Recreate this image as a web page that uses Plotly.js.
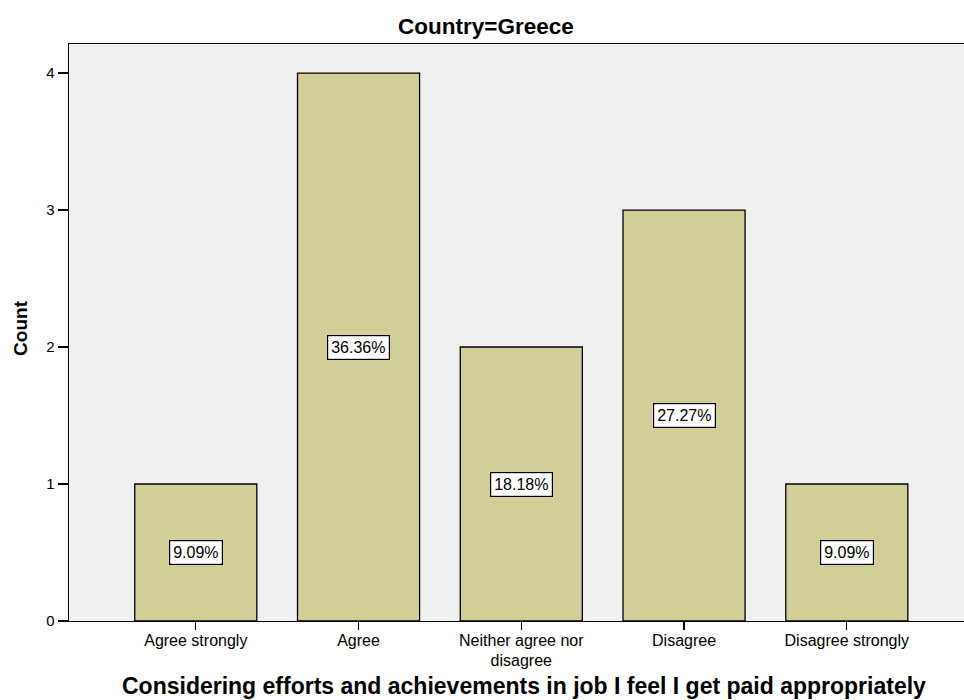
<!DOCTYPE html>
<html>
<head>
<meta charset="utf-8">
<script src="https://cdn.plot.ly/plotly-3.0.1.min.js"></script>
<style>html,body{margin:0;padding:0;background:#fff;}#chart{width:964px;height:700px;}</style>
</head>
<body>
<div id="chart"></div>
<script>
const categories = ["Agree strongly", "Agree", "Neither agree nor<br>disagree", "Disagree", "Disagree strongly"];
const counts = [1, 4, 2, 3, 1];
const pctLabels = ["9.09%", "36.36%", "18.18%", "27.27%", "9.09%"];

const FONT = "Arial, 'Liberation Sans', sans-serif";

const trace = {
  type: "bar",
  x: categories,
  y: counts,
  width: 0.75,
  marker: {color: "#D3CE97", line: {color: "#000", width: 1.3}},
  hoverinfo: "none"
};

const annotations = categories.map((c, i) => ({
  x: c, y: counts[i] / 2, xref: "x", yref: "y",
  text: pctLabels[i], showarrow: false,
  bgcolor: "#fff", bordercolor: "#000", borderwidth: 1.2, borderpad: 3,
  font: {family: FONT, size: 16, color: "#000"}
}));

annotations.push({
  xref: "paper", yref: "paper", x: 0.508, y: -0.112, xanchor: "center", yanchor: "middle",
  text: "<b>Considering efforts and achievements in job I feel I get paid appropriately</b>",
  showarrow: false, font: {family: FONT, size: 23, color: "#000"}
});
annotations.push({
  xref: "paper", yref: "paper", x: -0.0536, y: 0.508, xanchor: "center", yanchor: "middle",
  text: "<b>Count</b>", textangle: -90,
  showarrow: false, font: {family: FONT, size: 19, color: "#000"}
});

const layout = {
  width: 964, height: 700,
  margin: {l: 69, r: 0, t: 44, b: 79},
  paper_bgcolor: "#fff",
  plot_bgcolor: "#F0F0F0",
  showlegend: false,
  title: {text: "<b>Country=Greece</b>", x: 0.504, xanchor: "center", y: 0.962, yanchor: "middle",
    font: {family: FONT, size: 22.5, color: "#000"}},
  xaxis: {
    type: "category",
    range: [-0.779, 4.72],
    showline: true, linecolor: "#000", linewidth: 1.3, mirror: true,
    ticks: "outside", ticklen: 8, tickcolor: "#000", tickwidth: 1.3,
    ticklabelstandoff: -4,
    showgrid: false, zeroline: false,
    tickfont: {family: FONT, size: 16, color: "#000"}
  },
  yaxis: {
    range: [0, 4.212],
    tickvals: [0, 1, 2, 3, 4],
    showline: true, linecolor: "#000", linewidth: 1.3, mirror: true,
    ticks: "outside", ticklen: 10, tickcolor: "#000", tickwidth: 1.3,
    ticklabelstandoff: 0,
    showgrid: false, zeroline: false,
    tickfont: {family: FONT, size: 15, color: "#000"}
  },
  annotations: annotations
};

Plotly.newPlot("chart", [trace], layout, {displayModeBar: false, staticPlot: true});
</script>
</body>
</html>
